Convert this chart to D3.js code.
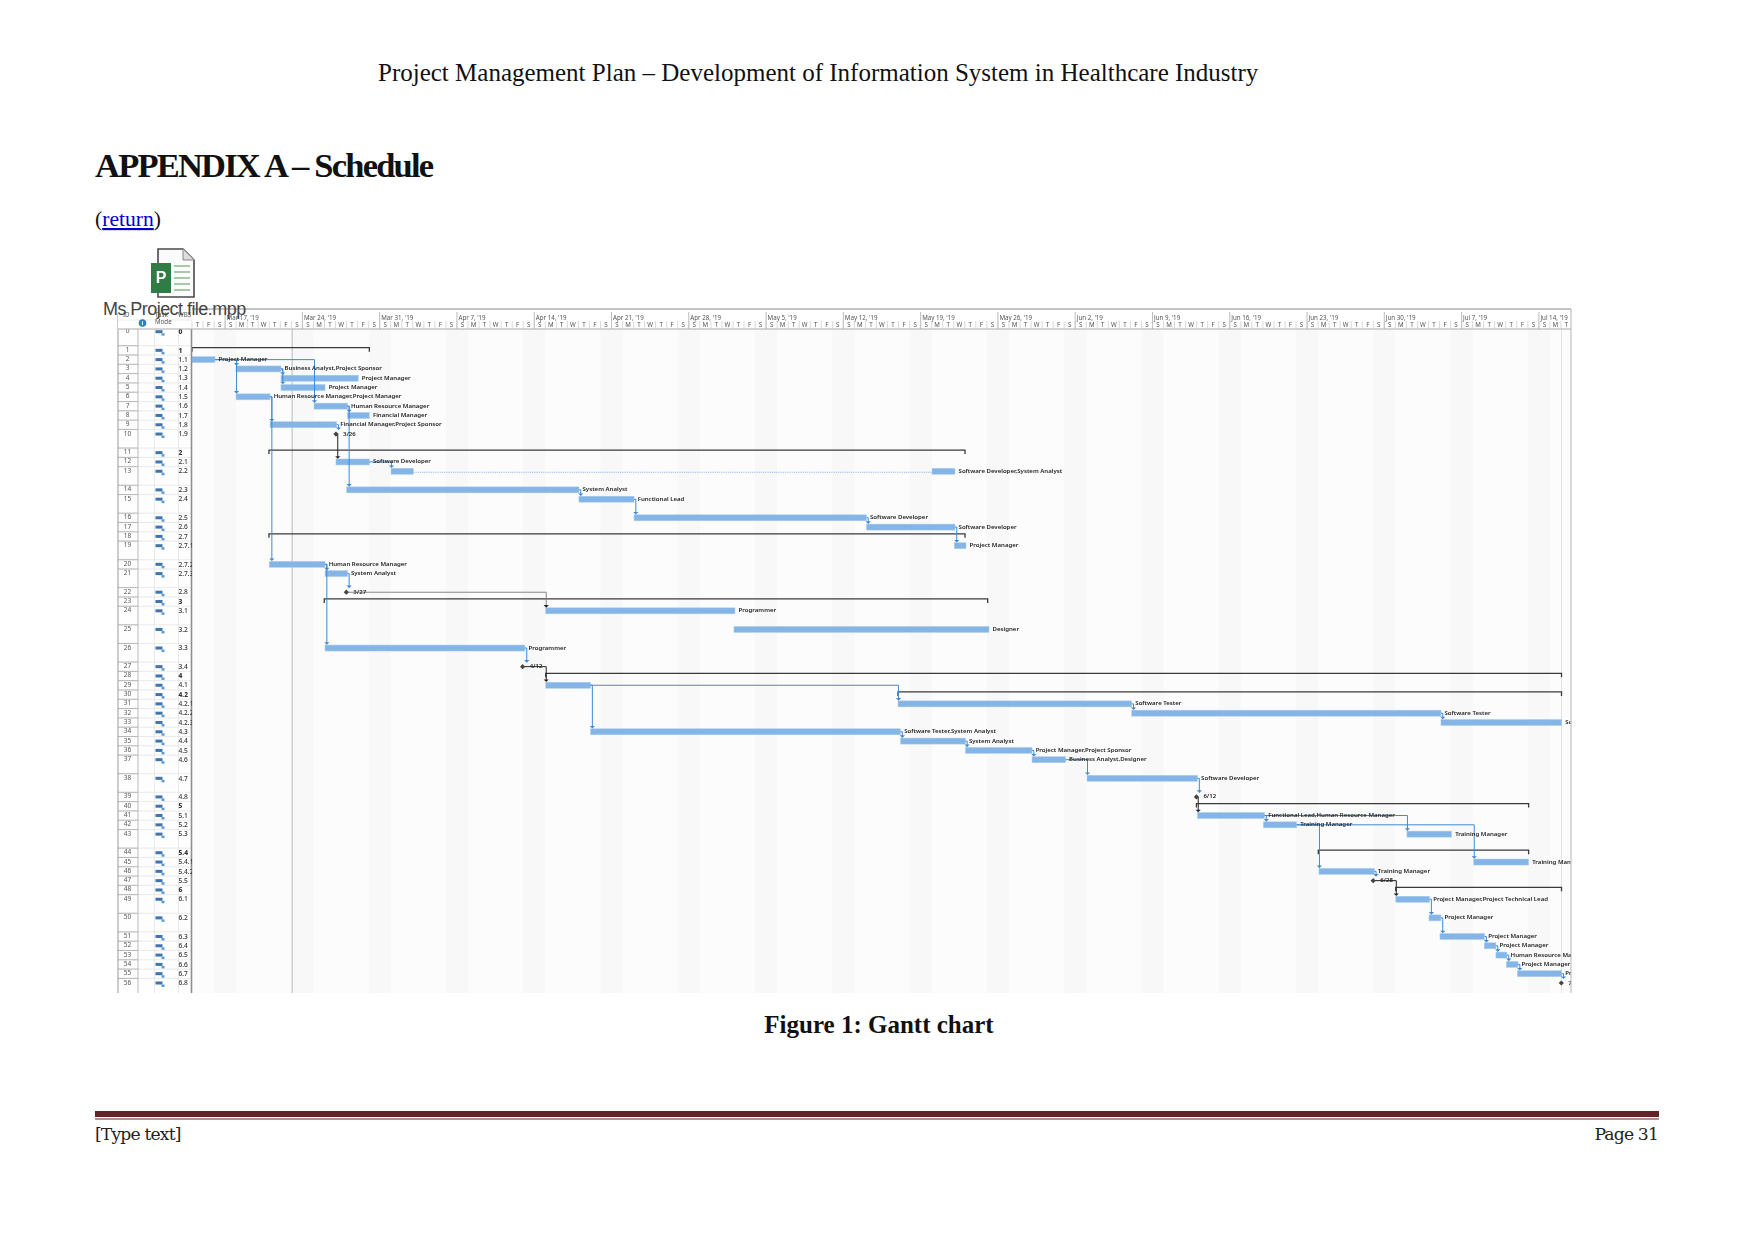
<!DOCTYPE html>
<html><head><meta charset="utf-8"><script src="https://cdnjs.cloudflare.com/ajax/libs/d3/7.8.5/d3.min.js"></script>
<style>html,body{margin:0;background:#fff}svg{display:block}.soft{filter:blur(.35px)}</style></head><body>
<svg id="c" width="1754" height="1241"></svg>
<script>
const pageTitle = "Project Management Plan – Development of Information System in Healthcare Industry";
const heading = "APPENDIX A – Schedule";
const caption = "Figure 1: Gantt chart";
const wbs = ["0","1","1.1","1.2","1.3","1.4","1.5","1.6","1.7","1.8","1.9","2","2.1","2.2","2.3","2.4","2.5","2.6","2.7","2.7.1","2.7.2","2.7.3","2.8","3","3.1","3.2","3.3","3.4","4","4.1","4.2","4.2.1","4.2.2","4.2.3","4.3","4.4","4.5","4.6","4.7","4.8","5","5.1","5.2","5.3","5.4","5.4.1","5.4.2","5.5","6","6.1","6.2","6.3","6.4","6.5","6.6","6.7","6.8"];
const rowLines = [2,1,1,1,1,1,1,1,1,1,2,1,1,2,1,2,1,1,1,2,1,2,1,1,2,2,2,1,1,1,1,1,1,1,1,1,1,2,2,1,1,1,1,2,1,1,1,1,1,2,2,1,1,1,1,1,1];
const boldRows = [0,1,11,23,28,30,40,44,48];
const taskIds = [2,3,4,5,6,7,8,9,12,13,14,15,16,17,19,20,21,24,25,26,29,31,32,33,34,35,36,37,38,41,42,43,45,46,49,50,51,52,53,54,55];
const taskStarts = [0,3.99,8.06,8.06,3.99,11.05,14.07,7.07,13.04,18.03,14.01,35.05,40.04,61.09,69.05,7,12.05,32.04,49.09,12.05,32.04,63.95,85.12,113.13,36.1,64.18,70.05,76.09,81.07,91.08,97.05,110.05,116.1,102.08,109.04,112.05,113.04,117.05,118.11,119.06,120.05];
const taskEnds = [2.08,8.06,15.06,12.05,7.07,14.07,16.06,13.11,16.06,69.11,35.05,40.04,61.09,69.11,70.11,12.05,14.07,49.18,72.19,30.16,36.1,85.12,113.13,124.07,64.18,70.05,76.09,79.12,91.08,97.15,100.05,114.09,121.07,107.09,112.1,113.13,117.08,118.11,119.11,120.11,124.07];
const splitRow = 13, splitGapStart = 20.05, splitGapEnd = 67.03;
const milestoneIds = [10,22,27,39,47,56];
const milestoneDays = [13.04,13.98,29.95,90.98,106.99,124.03];
const summaryIds = [1,11,18,23,28,30,40,44,48];
const summaryStarts = [0,6.97,6.97,11.98,32.04,63.95,90.98,102.02,109.04];
const summaryEnds = [16.06,70.02,70.02,72.07,124.05,124.05,121.07,121.07,124.05];
const labelIds = [2,3,4,5,6,7,8,9,10,12,13,14,15,16,17,19,20,21,22,24,25,26,27,31,32,33,34,35,36,37,38,39,41,42,43,45,46,47,49,50,51,52,53,54,55,56];
const labelTexts = ["Project Manager","Business Analyst,Project Sponsor","Project Manager","Project Manager","Human Resource Manager,Project Manager","Human Resource Manager","Financial Manager","Financial Manager,Project Sponsor","3/26","Software Developer","Software Developer,System Analyst","System Analyst","Functional Lead","Software Developer","Software Developer","Project Manager","Human Resource Manager","System Analyst","3/27","Programmer","Designer","Programmer","4/12","Software Tester","Software Tester","Software Tester","Software Tester,System Analyst","System Analyst","Project Manager,Project Sponsor","Business Analyst,Designer","Software Developer","6/12","Functional Lead,Human Resource Manager","Training Manager","Training Manager","Training Manager","Training Manager","6/28","Project Manager,Project Technical Lead","Project Manager","Project Manager","Project Manager","Human Resource Manager","Project Manager","Project Manager","7/15"];
const blueLinks = [[2,3],[2,6],[2,7],[3,4],[3,5],[6,9],[6,20],[7,8],[7,14],[9,10],[12,13],[14,15],[15,16],[16,17],[17,19],[20,21],[20,26],[21,22],[26,27],[29,31],[29,34],[31,32],[32,33],[34,35],[35,36],[36,37],[37,38],[38,39],[41,42],[41,43],[42,45],[42,46],[46,47],[49,50],[50,51],[51,52],[52,53],[53,54],[54,55],[55,56]];
const blackLinks = [[10,12],[27,29],[39,41],[47,49]];
const greyLinks = [[22,24]];
const weekLabels = ["Mar 17, '19","Mar 24, '19","Mar 31, '19","Apr 7, '19","Apr 14, '19","Apr 21, '19","Apr 28, '19","May 5, '19","May 12, '19","May 19, '19","May 26, '19","Jun 2, '19","Jun 9, '19","Jun 16, '19","Jun 23, '19","Jun 30, '19","Jul 7, '19","Jul 14, '19"];
const dayLetters = ["S","M","T","W","T","F","S"];
const firstWeekDay = 3, firstDayIndex = 4, dayCount = 125, todayDay = 9.07, totalLines = 70;

const svg = d3.select("#c");
const x = d3.scaleLinear().domain([0,dayCount]).range([192,192+dayCount*11.04]);
const yLine = d3.scaleLinear().domain([0,totalLines]).range([331.7,983]);
const cum = d3.cumsum([0].concat(rowLines));
const y = i => yLine(cum[i]);
const R = 1571, BOT = 993, HTOP = 309, HBOT = 329;
const serif = "'Liberation Serif',serif", sans = "'Noto Sans',sans-serif";

// page text
const T = (s,px,py,fs,o={}) => svg.append("text").attr("x",px).attr("y",py).attr("font-family",o.f||serif).attr("font-size",fs).attr("font-weight",o.w||400).attr("fill",o.c||"#111").attr("text-anchor",o.a||"start").attr("letter-spacing",o.ls||null).text(s);
T(pageTitle,378,81,25);
T(heading,95,177,34.5,{w:700,ls:"-1.78px"});
const ret = T("(",95,226,21.6);
ret.append("tspan").attr("fill","#0000cc").attr("text-decoration","underline").text("return");
ret.append("tspan").text(")");
T(caption,879,1033,25,{w:700,a:"middle"});
svg.append("rect").attr("x",95).attr("y",1111).attr("width",1564).attr("height",6).attr("fill","#5f2428");
svg.append("rect").attr("x",95).attr("y",1118.5).attr("width",1564).attr("height",1).attr("fill","#5f2428");
T("[Type text]",95,1140,17.2,{f:"'DejaVu Serif',serif",c:"#222",ls:"-0.85px"});
T("Page 31",1658,1140,17.2,{f:"'DejaVu Serif',serif",c:"#222",a:"end",ls:"-0.85px"});

// chart background + weekends
const defs = svg.append("defs");
defs.append("clipPath").attr("id","cp").append("rect").attr("x",192).attr("y",HTOP).attr("width",R-192).attr("height",BOT-HTOP);
defs.append("clipPath").attr("id","cw").append("rect").attr("x",178).attr("y",HBOT).attr("width",14).attr("height",BOT-HBOT);
const plotOuter = svg.append("g").attr("class","soft");
const plot = plotOuter.append("g").attr("clip-path","url(#cp)");
plot.append("rect").attr("x",192).attr("y",HBOT).attr("width",R-192).attr("height",BOT-HBOT).attr("fill","#fcfcfc");
const days = d3.range(dayCount);
plot.selectAll(".we").data(days.filter(d=>(d+firstDayIndex)%7==6)).join("rect")
  .attr("x",d=>x(d)).attr("y",HBOT).attr("width",x(2)-x(0)).attr("height",BOT-HBOT).attr("fill","#f8f8f8");

// table
const tbl = svg.append("g").attr("class","soft");
tbl.append("rect").attr("x",118).attr("y",HBOT).attr("width",74).attr("height",BOT-HBOT).attr("fill","#fefefe");
const rows = d3.range(wbs.length);
const rowTop = i => y(i)-4.6;
tbl.selectAll(".hl").data(rows).join("line").attr("x1",118).attr("x2",192).attr("y1",rowTop).attr("y2",rowTop).attr("stroke","#e4e4e4").attr("stroke-width",.8);
tbl.selectAll(".hl2").data(rows).join("line").attr("x1",118).attr("x2",138).attr("y1",rowTop).attr("y2",rowTop).attr("stroke","#aaa").attr("stroke-width",.8);
[[118,"#999",1],[138,"#bbb",1],[154.5,"#e5e5e5",.8],[178.5,"#e5e5e5",.8],[191.5,"#8f8f8f",1.6]].forEach(([px,c,w])=>
  tbl.append("line").attr("x1",px).attr("x2",px).attr("y1",HTOP+4).attr("y2",BOT).attr("stroke",c).attr("stroke-width",w));
tbl.selectAll(".id").data(rows).join("text").attr("x",127.5).attr("y",i=>y(i)+1.5).attr("text-anchor","middle")
  .attr("font-family",sans).attr("font-size",6.5).attr("fill","#555").text(i=>i);
const mode = tbl.selectAll(".m").data(rows).join("g").attr("transform",i=>`translate(155.5,${y(i)})`);
mode.append("rect").attr("y",-1.5).attr("width",7).attr("height",3).attr("fill","#3f74ad");
mode.append("path").attr("d","M6,1.5h3v2.5h-3z").attr("fill","#5d9ad6");
tbl.append("g").attr("clip-path","url(#cw)").selectAll("text").data(rows).join("text").attr("x",178.5).attr("y",i=>y(i)+2.2)
  .attr("font-family",sans).attr("font-size",6.6).attr("fill","#333").attr("font-weight",i=>boldRows.includes(i)?800:500).text(i=>wbs[i]);

// header
const hdr = svg.append("g").attr("class","soft");
hdr.append("rect").attr("x",118).attr("y",HTOP).attr("width",R-118).attr("height",HBOT-HTOP).attr("fill","#fff");
hdr.append("line").attr("x1",192).attr("x2",R).attr("y1",HTOP).attr("y2",HTOP).attr("stroke","#8a8a8a").attr("stroke-width",1);
hdr.append("line").attr("x1",118).attr("x2",R).attr("y1",HBOT).attr("y2",HBOT).attr("stroke","#aaa").attr("stroke-width",1.2);
hdr.append("line").attr("x1",R).attr("x2",R).attr("y1",HTOP).attr("y2",BOT).attr("stroke","#b5b5b5").attr("stroke-width",1);
hdr.append("line").attr("x1",118).attr("x2",192).attr("y1",320).attr("y2",320).attr("stroke","#e2e2e2").attr("stroke-width",.7);
hdr.selectAll(".wt").data(weekLabels).join("line").attr("x1",(d,i)=>x(firstWeekDay+i*7)).attr("x2",(d,i)=>x(firstWeekDay+i*7)).attr("y1",HTOP+3).attr("y2",HBOT).attr("stroke","#aaa").attr("stroke-width",.8);
hdr.selectAll(".wl").data(weekLabels).join("text").attr("x",(d,i)=>x(firstWeekDay+i*7)+1.5).attr("y",319.5)
  .attr("font-family",sans).attr("font-size",6.2).attr("fill","#555").text(d=>d);
hdr.selectAll(".dt").data(days).join("line").attr("x1",x).attr("x2",x).attr("y1",321).attr("y2",HBOT-1).attr("stroke","#c8c8c8").attr("stroke-width",.7);
hdr.append("g").attr("clip-path","url(#cp)").selectAll("text").data(days).join("text").attr("x",d=>x(d)+5.5).attr("y",326.5).attr("text-anchor","middle")
  .attr("font-family",sans).attr("font-size",6.2).attr("fill","#555").text(d=>dayLetters[(d+firstDayIndex)%7]);
hdr.append("circle").attr("cx",142.5).attr("cy",323).attr("r",3.8).attr("fill","#2f7fc8");
hdr.append("text").attr("x",142.5).attr("y",325.2).attr("text-anchor","middle").attr("font-family",sans).attr("font-size",6).attr("font-weight",700).attr("fill","#fff").text("i");
[["ID",123,317],["Task",155,317],["Mode",155,323.5],["WBS",178,317]].forEach(a=>
  hdr.append("text").attr("x",a[1]).attr("y",a[2]).attr("font-family",sans).attr("font-size",6.2).attr("fill","#555").text(a[0]));

// today and project lines
plot.append("line").attr("x1",x(todayDay)).attr("x2",x(todayDay)).attr("y1",HBOT).attr("y2",BOT).attr("stroke","#b9b9b9").attr("stroke-width",1);
plot.append("line").attr("x1",x(124.05)).attr("x2",x(124.05)).attr("y1",HBOT).attr("y2",BOT).attr("stroke","#dcdcdc").attr("stroke-width",.8);

// marks
const startOf = new Map(taskIds.map((id,i)=>[id,x(taskStarts[i])]));
const endOf = new Map(taskIds.map((id,i)=>[id,x(taskEnds[i])]));
milestoneIds.forEach((id,i)=>{startOf.set(id,x(milestoneDays[i])); endOf.set(id,x(milestoneDays[i]));});
const isMs = id => milestoneIds.includes(id);

// split dots
plot.append("line").attr("x1",x(splitGapStart)).attr("x2",x(splitGapEnd)).attr("y1",y(splitRow)+1).attr("y2",y(splitRow)+1)
  .attr("stroke","#6ea4dc").attr("stroke-width",.9).attr("stroke-dasharray","1 1.2");

// summaries
const sg = plot.selectAll(".s").data(summaryIds).join("g");
sg.append("path").attr("d",(id,i)=>{const a=x(summaryStarts[i]),b=x(summaryEnds[i]),t=y(id)-2.6;return `M${a},${t+4}V${t}H${b}V${t+4}`;})
  .attr("fill","none").attr("stroke","#3a3a3a").attr("stroke-width",1.3);

// bars
const bars = [];
taskIds.forEach((id,i)=>{
  if(id===splitRow){bars.push([id,taskStarts[i],splitGapStart]);bars.push([id,splitGapEnd,taskEnds[i]]);}
  else bars.push([id,taskStarts[i],taskEnds[i]]);
});
plot.selectAll(".b").data(bars).join("rect").attr("x",d=>x(d[1])).attr("width",d=>x(d[2])-x(d[1])).attr("y",d=>y(d[0])-3).attr("height",6)
  .attr("fill","#85b5e6").attr("stroke","#a9cdf0").attr("stroke-width",.5);

// links
function drawLink(l,col,w,head){
  const [a,b]=l, xa=endOf.get(a), xs=startOf.get(b), ya=y(a), yb=y(b)-(isMs(b)?4:3.2);
  const tx = xs>xa+3 ? xs+.5 : xa+1.8;
  plot.append("path").attr("d",`M${xa},${ya}H${tx}V${yb-2}`).attr("fill","none").attr("stroke",col).attr("stroke-width",w);
  plot.append("path").attr("d",`M${tx-2.6},${yb-2.6}H${tx+2.6}L${tx},${yb}Z`).attr("fill",head||col);
}
blueLinks.forEach(l=>drawLink(l,"#3d8ad6",1));
blackLinks.forEach(l=>drawLink(l,"#222",1));
greyLinks.forEach(l=>drawLink(l,"#777",.9,"#222"));

// milestones
plot.selectAll(".ms").data(milestoneIds).join("path")
  .attr("d",(id,i)=>{const m=x(milestoneDays[i]),c=y(id);return `M${m-2.6},${c}L${m},${c-2.6}L${m+2.6},${c}L${m},${c+2.6}Z`;}).attr("fill","#444");

// labels
plot.selectAll(".l").data(labelIds).join("text")
  .attr("x",id=>endOf.get(id)+(isMs(id)?7:3.6)).attr("y",id=>y(id)+1.5)
  .attr("font-family",sans).attr("font-size",6.05).attr("font-weight",600).attr("fill","#222").text((id,i)=>labelTexts[i]);

// embedded file icon
const ic = svg.append("g").attr("class","soft");
ic.append("path").attr("d","M158,249H183L194,260V297H158Z").attr("fill","#fbfbfb").attr("stroke","#4a4a4a").attr("stroke-width",1.6);
ic.append("path").attr("d","M183,249V260H194").attr("fill","#ddd").attr("stroke","#888").attr("stroke-width",1);
d3.range(5).forEach(i=>ic.append("rect").attr("x",174).attr("y",265+i*6).attr("width",16).attr("height",2).attr("fill","#a9c6a9"));
ic.append("rect").attr("x",151).attr("y",263).attr("width",20).attr("height",30).attr("fill","#2f7d45");
ic.append("text").attr("x",161).attr("y",283).attr("text-anchor","middle").attr("font-family","'Liberation Sans',sans-serif").attr("font-weight",700).attr("font-size",16).attr("fill","#fff").text("P");
T("Ms Project file.mpp",103,315,18,{f:"'Liberation Sans',sans-serif",c:"#444",ls:"-0.55px"});
</script></body></html>
